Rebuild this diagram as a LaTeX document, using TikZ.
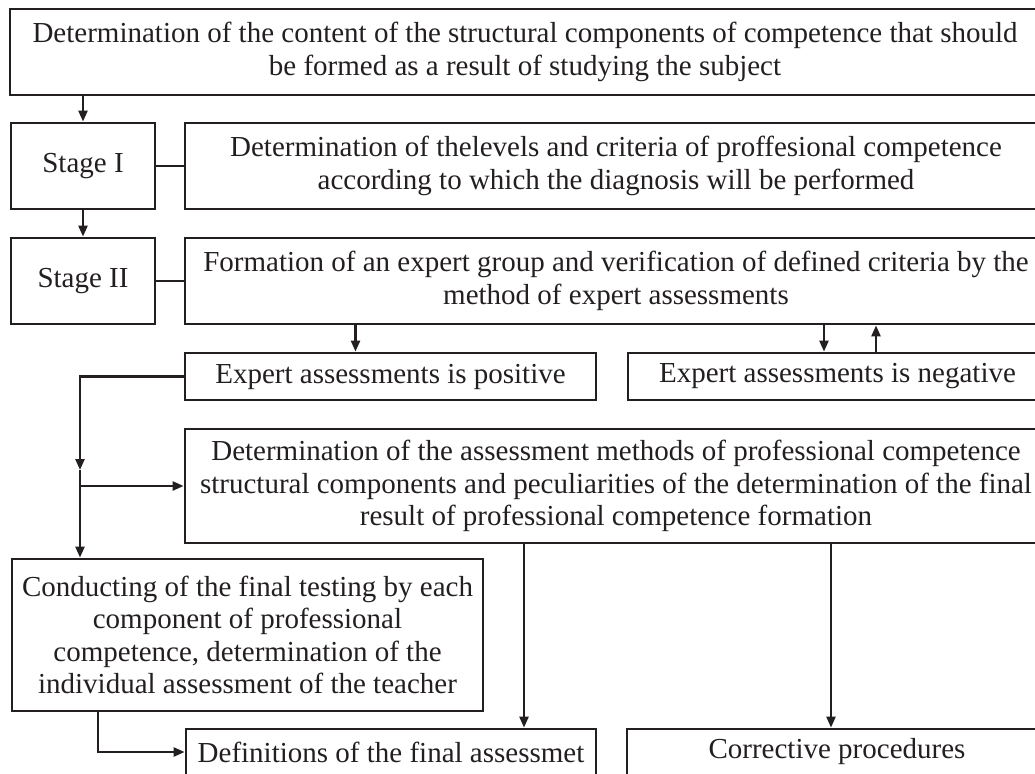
\documentclass[tikz,border=0pt]{standalone}
\usepackage{fontspec}
\setmainfont{Liberation Serif}
\usetikzlibrary{arrows.meta}
\definecolor{ink}{RGB}{35,31,32}

\begin{document}
\begin{tikzpicture}[x=1pt, y=-1pt,
  box/.style={draw=ink, line width=2.8pt, inner sep=0pt, align=center, text=ink,
    font=\fontsize{29}{32.5}\selectfont},
  link/.style={draw=ink, line width=2.4pt},
  arr/.style={link, -{Triangle[length=11pt,width=9pt]}}]
\clip (0,0) rectangle (1035,773);

% Content of the competence
\node[box, minimum width=1030, minimum height=86] (content) at (525,52) {Determination of the content of the structural components of competence that should\\be formed as a result of studying the subject};

% Stage I
\node[box, minimum width=144, minimum height=86] (stageone) at (83,166) {Stage I};
\node[box, minimum width=862, minimum height=86] (levels) at (616,166) {Determination of thelevels and criteria of proffesional competence\\according to which the diagnosis will be performed};

% Stage II
\node[box, minimum width=144, minimum height=86] (stagetwo) at (83,281) {Stage II};
\node[box, minimum width=862, minimum height=86] (expert) at (616,281) {Formation of an expert group and verification of defined criteria by the\\method of expert assessments};

% Outcome of the expertise
\node[box, minimum width=411, minimum height=47] (positive) at (390.5,376.5) {Expert assessments is positive};
\node[box, minimum width=419, minimum height=47] (negative) at (837.5,376.5) {Expert assessments is negative};

% Methods
\node[box, minimum width=862, minimum height=114] (methods) at (616,486) {Determination of the assessment methods of professional competence\\structural components and peculiarities of the determination of the final\\result of professional competence formation};

% Final testing
\node[box, minimum width=471, minimum height=152] (testing) at (247.5,635) {Conducting of the final testing by each\\component of professional\\competence, determination of the\\individual assessment of the teacher};

% Results
\node[box, minimum width=410, minimum height=46] (final) at (391,752) {Definitions of the final assessmet};
\node[box, minimum width=420, minimum height=46] (corrective) at (837,752) {Corrective procedures};

% Arrows
\draw[arr] (content.south -| stageone.north) -- (stageone.north);
\draw[arr] (stageone) -- (stagetwo);
\draw[link] (stageone) -- (levels);
\draw[link] (stagetwo) -- (expert);
\draw[arr] ([xshift=-35pt]positive.north |- expert.south) -- ([xshift=-35pt]positive.north);
\draw[arr] ([xshift=-13.5pt]negative.north |- expert.south) -- ([xshift=-13.5pt]negative.north);
\draw[arr] ([xshift=38.5pt]negative.north) -- ([xshift=38.5pt]negative.north |- expert.south);

% Left branch
\coordinate (mid) at (80,470);
\draw[arr] (positive.west) -| (mid);
\draw[arr] (mid) -- (mid |- testing.north);
\draw[arr] (mid |- methods.west) -- (methods.west);
\draw[arr] ([xshift=-149.5pt]testing.south) |- (final.west);

% Down to the results
\draw[arr] ([xshift=133pt]final.north |- methods.south) -- ([xshift=133pt]final.north);
\draw[arr] ([xshift=-6pt]corrective.north |- methods.south) -- ([xshift=-6pt]corrective.north);
\end{tikzpicture}
\end{document}
